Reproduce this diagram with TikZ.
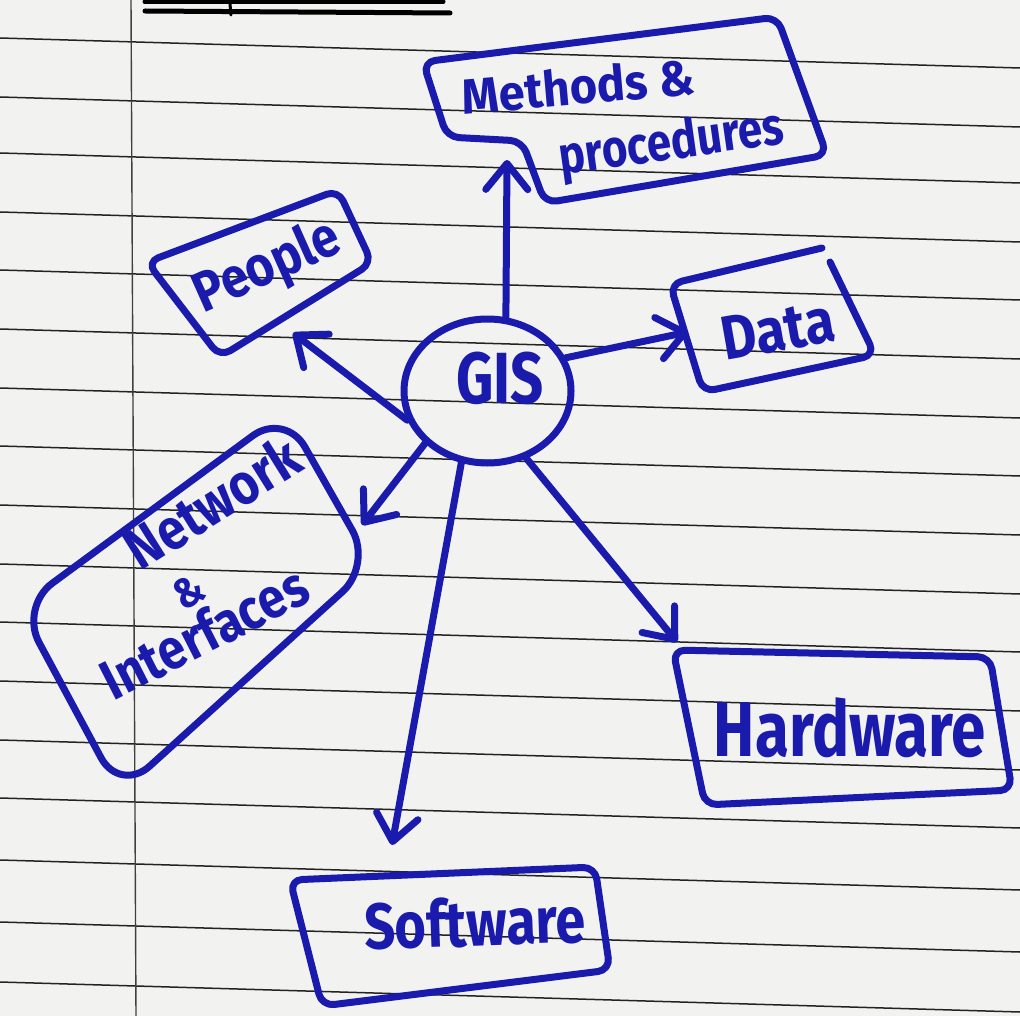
\documentclass[tikz,border=0pt]{standalone}
\usepackage{fontspec}
\usepackage{graphicx}
\setmainfont{Fira Sans}
\usetikzlibrary{arrows.meta,shapes.geometric}
\definecolor{ink}{RGB}{26,26,172}
\definecolor{paper}{RGB}{242,242,240}
\definecolor{rulecol}{RGB}{35,35,35}
\newcommand{\inktext}[3]{{\fontsize{#1}{#1}\selectfont\scalebox{1}[#2]{#3}}}
\begin{document}
\begin{tikzpicture}[x=1pt,y=-1pt,
  inkline/.style={draw=ink,line width=7pt,line cap=round,line join=round},
  boxline/.style={inkline,rounded corners=12pt},
  lbl/.style={text=ink,font=\bfseries,inner sep=0pt,anchor=center},
  conn/.style={inkline,-{Straight Barb[length=26pt,width=42pt,round]}},
  ruled/.style={draw=rulecol,line width=1.5pt}]
\useasboundingbox (0,0) rectangle (1020,1016);
\fill[paper] (0,0) rectangle (1020,1016);
% lined paper
\foreach \yy in {38,97,153,212,270,329,388,446,505,564,622,681,740,798,860,922,982}
  \draw[ruled] (0,\yy) -- (1020,\yy+30);
\draw[draw=gray!50!black,line width=1.4pt] (131,0) -- (136,1016);
% heading underline
\draw[line width=5pt,line cap=round] (145,2) -- (443,2);
\draw[line width=5pt,line cap=round] (145,11) -- (450,13);
\draw[line width=3pt,line cap=round] (230,4) -- (231,15);

% centre
\node[ellipse,inkline,minimum width=167pt,minimum height=144pt,inner sep=0pt] (gis) at (487.5,391) {};
\node[lbl] (tgis) at (500,378) {\inktext{58}{1.25}{GIS}};

% Methods & procedures
\coordinate (m1) at (423,62);
\coordinate (m2) at (777,17);
\coordinate (m3) at (827,155);
\coordinate (m4) at (545,203);
\coordinate (m5) at (522,141);
\coordinate (m6) at (447,137);
\draw[boxline] (m1) -- (m2) -- (m3) -- (m4) -- (m5) -- (m6) -- cycle;
\node[lbl,rotate=5] (tmeth) at (578,86) {\inktext{47}{1.05}{Methods \&}};
\node[lbl,rotate=8] (tproc) at (672,145) {\inktext{44}{1.2}{procedures}};

% People
\coordinate (p1) at (147,262);
\coordinate (p2) at (338,190);
\coordinate (p3) at (372,263);
\coordinate (p4) at (220,357);
\draw[boxline] (p1) -- (p2) -- (p3) -- (p4) -- cycle;
\node[lbl,rotate=24] (tpeople) at (268,268) {\inktext{49}{1.15}{People}};

% Data
\coordinate (d1) at (822,248);
\coordinate (d2) at (670,284);
\coordinate (d3) at (703,392);
\coordinate (d4) at (875,355);
\coordinate (d5) at (830,262);
\draw[boxline] (d1) -- (d2) -- (d3) -- (d4) -- (d5);
\node[lbl,rotate=10] (tdata) at (778,330) {\inktext{54}{1.15}{Data}};

% Network & Interfaces
\coordinate (n1) at (285,412);
\coordinate (n2) at (372,565);
\coordinate (n3) at (120,793);
\coordinate (n4) at (20,607);
\draw[inkline,rounded corners=40pt] (n1) -- (n2) -- (n3) -- (n4) -- cycle;
\node[lbl,rotate=32] (tnet) at (212,502) {\inktext{50}{1.15}{Network}};
\node[lbl,rotate=30] (tamp) at (189,592) {\inktext{38}{1.1}{\&}};
\node[lbl,rotate=27] (tint) at (204,632) {\inktext{49}{1.15}{Interfaces}};

% Hardware
\coordinate (h1) at (673,650);
\coordinate (h2) at (990,657);
\coordinate (h3) at (1012,790);
\coordinate (h4) at (705,805);
\draw[boxline] (h1) -- (h2) -- (h3) -- (h4) -- cycle;
\node[lbl] (thard) at (850,728) {\inktext{62}{1.25}{Hardware}};

% Software
\coordinate (s1) at (290,880);
\coordinate (s2) at (595,867);
\coordinate (s3) at (610,970);
\coordinate (s4) at (322,1006);
\draw[boxline] (s1) -- (s2) -- (s3) -- (s4) -- cycle;
\node[lbl,rotate=2] (tsoft) at (475,922) {\inktext{54}{1.2}{Software}};

% connectors
\coordinate (tipM) at (507,160);
\coordinate (tipP) at (293,333);
\coordinate (tipD) at (688,332);
\coordinate (tipN) at (362,525);
\coordinate (tipS) at (392,845);
\coordinate (tipH) at (677,642);
\draw[conn] (gis.76) -- (tipM);
\draw[conn] (gis.200) -- (tipP);
\draw[conn] (gis.23) -- (tipD);
\draw[conn] (gis.220) -- (tipN);
\draw[conn] (gis.250) -- (tipS);
\draw[conn] (gis.300) -- (tipH);
\end{tikzpicture}
\end{document}
